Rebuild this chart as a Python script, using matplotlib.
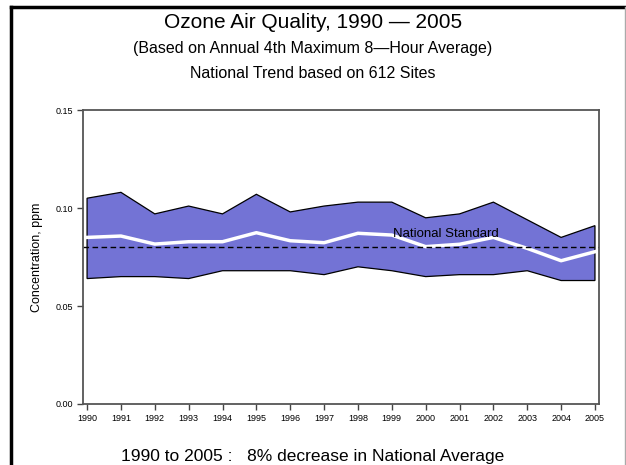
import numpy as np
import matplotlib.pyplot as plt
from matplotlib.lines import Line2D

plt.rcParams['font.family'] = ['Liberation Sans', 'DejaVu Sans']

years = list(range(1990, 2006))
upper = [0.105, 0.108, 0.097, 0.101, 0.097, 0.107, 0.098, 0.101, 0.103,
         0.103, 0.095, 0.097, 0.103, 0.094, 0.085, 0.091]
lower = [0.064, 0.065, 0.065, 0.064, 0.068, 0.068, 0.068, 0.066, 0.070,
         0.068, 0.065, 0.066, 0.066, 0.068, 0.063, 0.063]
mean = [0.085, 0.0857, 0.0816, 0.0828, 0.0828, 0.0874, 0.0833, 0.0823,
        0.0871, 0.0862, 0.0803, 0.0815, 0.085, 0.0794, 0.0731, 0.0777]
standard = 0.08
yticks = [0.00, 0.05, 0.10, 0.15]

fig = plt.figure(figsize=(6.26, 4.65), dpi=100)
ax = fig.add_axes([0.1326, 0.1312, 0.8243, 0.6322])

# band between the upper and lower site percentiles
poly_x = years + years[::-1]
poly_y = upper + lower[::-1]
ax.fill(poly_x, poly_y, facecolor='#7373d5', edgecolor='black', linewidth=0.9)
ax.plot(years, mean, color='white', linewidth=2.5)
ax.axhline(standard, color='black', linestyle=(0, (4, 2.5)), linewidth=1.0)
ax.text(2000.6, 0.0868, 'National Standard', fontsize=9.5, ha='center',
        va='center')

ax.set_xlim(1989.88, 2005.12)
ax.set_ylim(0, 0.15)
ax.set_xticks(years)
ax.set_xticklabels([str(y) for y in years], fontsize=6.5)
ax.set_yticks(yticks)
ax.set_yticklabels(['%.2f' % v for v in yticks], fontsize=6.5)
ax.tick_params(direction='out', length=4, width=1.0, color='#444444',
               pad=3)
for s in ax.spines.values():
    s.set_color('#555555')
    s.set_linewidth(1.3)
ax.set_ylabel('Concentration, ppm', fontsize=9, labelpad=9)

fig.text(0.5, 1 - 22 / 465, 'Ozone Air Quality, 1990 \u2014 2005',
         ha='center', va='center', fontsize=15)
fig.text(0.5, 1 - 48 / 465,
         '(Based on Annual 4th Maximum 8\u2014Hour Average)',
         ha='center', va='center', fontsize=11.5)
fig.text(0.5, 1 - 73 / 465, 'National Trend based on 612 Sites',
         ha='center', va='center', fontsize=11.5)
fig.text(0.5, 1 - 456 / 465,
         '1990 to 2005 :   8% decrease in National Average',
         ha='center', va='center', fontsize=12.5)

# outer frame
fig.add_artist(Line2D([10.5 / 626, 625 / 626], [1 - 7.5 / 465] * 2,
                      color='black', linewidth=2.5))
fig.add_artist(Line2D([10.5 / 626] * 2, [0, 1 - 7.5 / 465],
                      color='black', linewidth=2.5))
fig.add_artist(Line2D([624.5 / 626] * 2, [0, 1 - 7.5 / 465],
                      color='#aaaaaa', linewidth=1.0))

fig.savefig('out.png', dpi=100)
